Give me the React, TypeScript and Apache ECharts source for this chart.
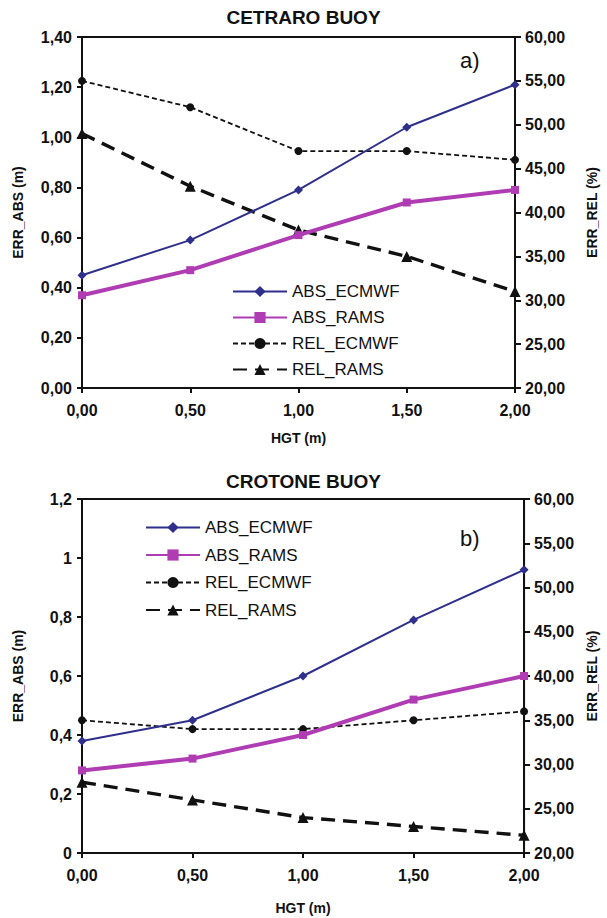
import React, { useEffect, useRef } from "react";
import * as echarts from "echarts";

const HGT = [0, 0.5, 1, 1.5, 2];

// Cetraro buoy (a)
const cetraroAbsEcmwf = [0.45, 0.59, 0.79, 1.04, 1.21];
const cetraroAbsRams = [0.37, 0.47, 0.61, 0.74, 0.79];
const cetraroRelEcmwf = [55, 52, 47, 47, 46];
const cetraroRelRams = [49, 43, 38, 35, 31];

// Crotone buoy (b)
const crotoneAbsEcmwf = [0.38, 0.45, 0.6, 0.79, 0.96];
const crotoneAbsRams = [0.28, 0.32, 0.4, 0.52, 0.6];
const crotoneRelEcmwf = [35, 34, 34, 35, 36];
const crotoneRelRams = [28, 26, 24, 23, 22];

const SERIES_NAMES = ["ABS_ECMWF", "ABS_RAMS", "REL_ECMWF", "REL_RAMS"];
const TITLES = ["CETRARO BUOY", "CROTONE BUOY"];
const PANEL_TAGS = ["a)", "b)"];

const FONT = "'Liberation Sans', Arial, sans-serif";
const NAVY = "#2f2f8c";
const MAGENTA = "#b03cb3";
const INK = "#111111";

const comma2 = (v: number) => v.toFixed(2).replace(".", ",");
const commaShort = (v: number) => String(parseFloat(v.toFixed(1))).replace(".", ",");

const pairs = (ys: number[]) => ys.map((y, i) => [HGT[i], y]);

function makeSeries(
  xAxisIndex: number,
  leftY: number,
  rightY: number,
  absE: number[],
  absR: number[],
  relE: number[],
  relR: number[]
) {
  return [
    {
      name: SERIES_NAMES[0],
      type: "line",
      xAxisIndex,
      yAxisIndex: leftY,
      data: pairs(absE),
      symbol: "diamond",
      symbolSize: 9,
      itemStyle: { color: NAVY },
      lineStyle: { color: NAVY, width: 2 },
      z: 4,
    },
    {
      name: SERIES_NAMES[1],
      type: "line",
      xAxisIndex,
      yAxisIndex: leftY,
      data: pairs(absR),
      symbol: "rect",
      symbolSize: 8,
      itemStyle: { color: MAGENTA },
      lineStyle: { color: MAGENTA, width: 4 },
      z: 3,
    },
    {
      name: SERIES_NAMES[2],
      type: "line",
      xAxisIndex,
      yAxisIndex: rightY,
      data: pairs(relE),
      symbol: "circle",
      symbolSize: 8,
      itemStyle: { color: INK },
      lineStyle: { color: INK, width: 1.8, type: [5, 3] },
      z: 2,
    },
    {
      name: SERIES_NAMES[3],
      type: "line",
      xAxisIndex,
      yAxisIndex: rightY,
      data: pairs(relR),
      symbol: "triangle",
      symbolSize: 11,
      itemStyle: { color: INK },
      lineStyle: { color: INK, width: 3.4, type: [14, 8] },
      z: 2,
    },
  ];
}

export default function App() {
  const ref = useRef<HTMLDivElement>(null);

  useEffect(() => {
    if (!ref.current) return;
    const chart = echarts.init(ref.current, null, { renderer: "svg" });

    const axisLine = { show: true, lineStyle: { color: INK, width: 2 } };
    const tickLabel = { color: INK, fontSize: 16, fontWeight: "bold", fontFamily: FONT };
    const nameStyle = { color: INK, fontSize: 14, fontWeight: "bold", fontFamily: FONT };

    const xAxis = (gridIndex: number, gap: number) => ({
      type: "value",
      gridIndex,
      min: 0,
      max: 2,
      interval: 0.5,
      name: "HGT (m)",
      nameLocation: "middle",
      nameGap: gap,
      nameTextStyle: nameStyle,
      axisLine,
      axisTick: { show: true, length: 5, lineStyle: { color: INK, width: 2 } },
      axisLabel: { ...tickLabel, margin: 14, formatter: (v: number) => comma2(v) },
      splitLine: { show: false },
    });

    const leftAxis = (gridIndex: number, max: number, fmt: (v: number) => string) => ({
      type: "value",
      gridIndex,
      position: "left",
      min: 0,
      max,
      interval: 0.2,
      name: "ERR_ABS (m)",
      nameLocation: "middle",
      nameGap: 57,
      nameTextStyle: nameStyle,
      axisLine,
      axisTick: { show: true, length: 5, lineStyle: { color: INK, width: 2 } },
      axisLabel: { ...tickLabel, margin: 10, formatter: fmt },
      splitLine: { show: false },
    });

    const rightAxis = (gridIndex: number, gap: number) => ({
      type: "value",
      gridIndex,
      position: "right",
      min: 20,
      max: 60,
      interval: 5,
      name: "ERR_REL (%)",
      nameLocation: "middle",
      nameGap: gap,
      nameRotate: 90,
      nameTextStyle: nameStyle,
      axisLine,
      axisTick: { show: true, length: 6, lineStyle: { color: INK, width: 2 } },
      axisLabel: { ...tickLabel, margin: 10, formatter: (v: number) => comma2(v) },
      splitLine: { show: false },
    });

    const legendText = { color: INK, fontSize: 17, fontFamily: FONT };

    chart.setOption({
      animation: false,
      backgroundColor: "#ffffff",
      title: [
        {
          text: TITLES[0],
          left: "center",
          top: 3,
          textStyle: { color: INK, fontSize: 19, fontWeight: "bold", fontFamily: FONT },
        },
        {
          text: TITLES[1],
          left: "center",
          top: 467,
          textStyle: { color: INK, fontSize: 19, fontWeight: "bold", fontFamily: FONT },
        },
      ],
      grid: [
        { left: 82, right: 92, top: 37, height: 351, show: true, borderColor: INK, borderWidth: 2, backgroundColor: "transparent" },
        { left: 82, right: 79, top: 499, height: 354, show: true, borderColor: INK, borderWidth: 2, backgroundColor: "transparent" },
      ],
      xAxis: [xAxis(0, 43), xAxis(1, 48)],
      yAxis: [
        leftAxis(0, 1.4, (v: number) => comma2(v)),
        rightAxis(0, 70),
        leftAxis(1, 1.2, commaShort),
        rightAxis(1, 58),
      ],
      legend: [
        {
          data: SERIES_NAMES,
          orient: "vertical",
          left: 227,
          top: 278,
          itemWidth: 54,
          itemHeight: 14,
          itemGap: 9,
          textStyle: legendText,
          selectedMode: false,
        },
        {
          data: SERIES_NAMES,
          orient: "vertical",
          left: 140,
          top: 514,
          itemWidth: 54,
          itemHeight: 14,
          itemGap: 10.5,
          textStyle: legendText,
          selectedMode: false,
        },
      ],
      graphic: [
        {
          type: "text",
          left: 460,
          top: 49,
          style: { text: PANEL_TAGS[0], fontSize: 22, fontFamily: FONT, fill: INK },
        },
        {
          type: "text",
          left: 460,
          top: 527,
          style: { text: PANEL_TAGS[1], fontSize: 22, fontFamily: FONT, fill: INK },
        },
      ],
      series: [
        ...makeSeries(0, 0, 1, cetraroAbsEcmwf, cetraroAbsRams, cetraroRelEcmwf, cetraroRelRams),
        ...makeSeries(1, 2, 3, crotoneAbsEcmwf, crotoneAbsRams, crotoneRelEcmwf, crotoneRelRams),
      ],
    });

    return () => chart.dispose();
  }, []);

  return (
    <div
      ref={ref}
      style={{ position: "absolute", left: 0, top: 0, width: 607, height: 918, background: "#fff" }}
    />
  );
}
